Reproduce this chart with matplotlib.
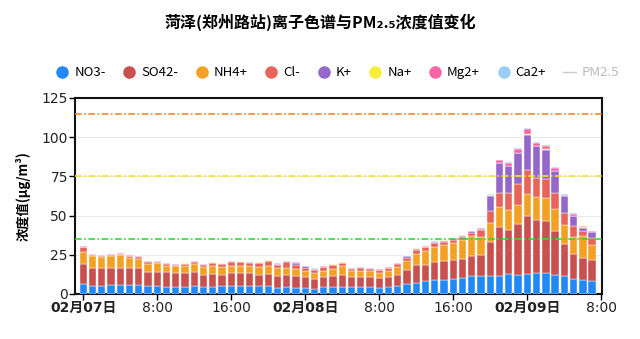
import numpy as np
import matplotlib
matplotlib.use("Agg")
import matplotlib.pyplot as plt
from matplotlib.lines import Line2D

plt.rcParams['font.family'] = ['Noto Sans CJK SC', 'DejaVu Sans']

# hourly samples, 02-07 00:00 .. 02-09 07:00
hours = np.arange(56)

no3 = [6.4, 5.3, 5.3, 5.5, 5.6, 5.6, 5.6, 5.3, 5.3, 4.4,
       4.4, 4.4, 5.3, 4.4, 4.4, 4.9, 4.9, 5.3, 5.3, 4.9,
       4.9, 3.8, 4.4, 3.8, 3.8, 3.4, 4.4, 4.4, 4.4, 4.4,
       4.4, 4.4, 3.8, 4.4, 5.3, 6.4, 7.0, 8.1, 9.1, 9.1,
       9.7, 10.2, 11.2, 11.6, 11.6, 11.6, 12.7, 12.0, 12.7, 13.3,
       13.3, 12.3, 11.2, 9.8, 8.7, 8.1]
so4 = [12.8, 11.3, 11.3, 11.1, 11.2, 11.2, 11.0, 8.5, 8.9, 9.6,
       9.0, 9.0, 8.7, 7.9, 8.5, 7.4, 8.5, 8.1, 8.1, 7.4,
       7.8, 7.4, 7.9, 7.9, 6.8, 6.3, 6.6, 7.3, 7.9, 6.6,
       6.6, 6.6, 6.4, 6.2, 7.0, 8.7, 11.3, 10.6, 11.1, 11.7,
       12.2, 12.3, 13.2, 13.4, 21.3, 30.8, 27.8, 32.4, 37.2, 33.6,
       33.0, 27.6, 20.8, 15.9, 14.0, 13.6]
nh4 = [7.8, 7.4, 6.8, 7.4, 7.9, 5.9, 5.6, 5.4, 5.6, 4.0,
       4.2, 4.2, 5.1, 4.7, 5.1, 4.7, 4.6, 4.6, 4.6, 4.7,
       5.3, 5.4, 4.3, 4.4, 3.8, 3.7, 3.4, 4.4, 5.3, 3.6,
       3.6, 3.6, 3.2, 3.8, 4.7, 6.2, 7.2, 8.5, 9.5, 10.2,
       10.6, 11.7, 12.3, 11.3, 12.3, 12.8, 13.3, 12.5, 14.0, 14.7,
       14.6, 14.5, 12.2, 10.6, 14.5, 9.7]
cl = [2.7, 0.9, 1.0, 0.9, 0.7, 1.3, 1.3, 1.0, 0.8, 1.3,
      1.1, 1.5, 1.3, 1.7, 1.7, 2.1, 2.4, 2.2, 1.7, 2.7,
      2.8, 2.1, 3.8, 2.6, 2.2, 2.1, 2.6, 2.2, 2.1, 1.5,
      2.0, 1.5, 1.7, 1.9, 2.3, 1.7, 2.8, 2.5, 2.8, 2.1,
      2.1, 1.9, 2.1, 4.3, 7.5, 9.2, 10.6, 13.4, 15.3, 12.3,
      12.4, 10.0, 7.4, 6.8, 3.2, 4.3]
k = [0.4, 0.3, 0.3, 0.3, 0.2, 0.4, 0.5, 0.5, 0.3, 0.3,
     0.3, 0.3, 0.3, 0.3, 0.3, 0.3, 0.4, 0.4, 0.5, 0.3,
     0.5, 0.5, 0.5, 1.0, 1.0, 0.5, 0.3, 0.4, 0.2, 0.3,
     0.3, 0.3, 0.3, 0.4, 0.3, 1.0, 0.6, 0.4, 0.6, 0.9,
     1.0, 1.1, 1.1, 0.8, 10.0, 19.1, 17.0, 19.6, 22.3, 20.2,
     18.7, 13.8, 10.7, 6.8, 1.9, 3.6]
na = [0.1, 0.1, 0.1, 0.1, 0.1, 0.1, 0.1, 0.1, 0.1, 0.1,
      0.1, 0.1, 0.2, 0.1, 0.1, 0.1, 0.1, 0.1, 0.1, 0.1,
      0.1, 0.1, 0.1, 0.2, 0.1, 0.1, 0.1, 0.1, 0.3, 0.1,
      0.1, 0.1, 0.1, 0.1, 0.1, 0.1, 0.1, 0.1, 0.2, 0.1,
      0.1, 0.1, 0.1, 0.1, 0.1, 0.2, 0.2, 0.2, 0.2, 0.2,
      0.2, 0.2, 0.1, 0.1, 0.1, 0.1]
mg = [0.1, 0.1, 0.1, 0.1, 0.1, 0.1, 0.1, 0.1, 0.1, 0.1,
      0.1, 0.1, 0.1, 0.1, 0.1, 0.1, 0.1, 0.1, 0.1, 0.1,
      0.1, 0.1, 0.1, 0.2, 0.1, 0.1, 0.1, 0.1, 0.1, 0.1,
      0.1, 0.1, 0.1, 0.2, 0.1, 0.1, 0.1, 0.1, 0.1, 0.1,
      0.1, 0.1, 0.2, 0.6, 0.6, 1.5, 1.7, 2.6, 3.7, 2.2,
      2.1, 2.1, 1.0, 1.1, 0.8, 0.6]
ca = [0.3, 0.3, 0.2, 0.3, 0.3, 0.2, 0.2, 0.2, 0.2, 0.1,
      0.1, 0.1, 0.2, 0.1, 0.2, 0.1, 0.2, 0.2, 0.2, 0.2,
      0.2, 0.1, 0.1, 0.3, 0.2, 0.2, 0.1, 0.2, 0.1, 0.2,
      0.1, 0.2, 0.1, 0.2, 0.1, 0.2, 0.2, 0.1, 0.1, 0.1,
      0.1, 0.1, 0.1, 0.2, 0.3, 0.5, 0.7, 0.4, 0.4, 0.4,
      0.9, 0.7, 0.5, 0.5, 0.4, 0.4]

names = ['NO3-', 'SO42-', 'NH4+', 'Cl-', 'K+', 'Na+', 'Mg2+', 'Ca2+']
colors = ['#2188f4', '#c8504f', '#f2a124', '#e8645a', '#9467c9',
          '#f7ee3a', '#ff63a5', '#9acdf6']
series = [no3, so4, nh4, cl, k, na, mg, ca]

ref_levels = [115, 75, 35]
ref_colors = ['#f0892a', '#f2e422', '#2fdd2f']

tick_pos = [0, 8, 16, 24, 32, 40, 48, 56]
tick_labels = ['02月07日', '8:00', '16:00', '02月08日', '8:00', '16:00',
               '02月09日', '8:00']

latin_first = ['DejaVu Sans', 'Noto Sans CJK SC']

fig = plt.figure(figsize=(6.4, 3.39), dpi=100)
ax = fig.add_axes([0.117, 0.133, 0.824, 0.578])

bottom = np.zeros(len(hours))
for vals, c in zip(series, colors):
    ax.bar(hours, vals, bottom=bottom, width=0.8, color=c,
           edgecolor='white', linewidth=0.3, zorder=3)
    bottom += np.array(vals)

for lvl, c in zip(ref_levels, ref_colors):
    ax.axhline(lvl, color=c, lw=1.2, ls=(0, (4, 1.5, 1, 1.5)), zorder=4)

ax.set_xlim(-0.9, 56.1)
ax.set_ylim(0, 125)
ax.set_yticks([0, 25, 50, 75, 100, 125])
ax.yaxis.grid(True, color='#e8e8e8', lw=0.8, zorder=0)
ax.set_xticks(tick_pos)
ax.set_xticklabels(tick_labels)
for lab in ax.get_xticklabels() + ax.get_yticklabels():
    lab.set_family(latin_first)
    if '日' in lab.get_text():
        lab.set_fontweight('bold')
ax.tick_params(axis='both', labelsize=10, length=4, width=1, pad=1,
               labelcolor='#222222')
for s in ax.spines.values():
    s.set_linewidth(1.5)
    s.set_color('#111111')

ax.set_ylabel('浓度值(μg/m³)', fontsize=9.5, fontweight='bold', labelpad=8)

fig.text(0.5, 0.935, '菏泽(郑州路站)离子色谱与PM₂.₅浓度值变化',
         ha='center', va='center', fontsize=11.5, fontweight='bold')

handles = [Line2D([], [], marker='o', ls='none', markersize=8,
                  markerfacecolor=c, markeredgecolor=c) for c in colors]
handles.append(Line2D([], [], color='#cccccc', lw=1))
leg = fig.legend(handles, names + ['PM2.5'], loc='center',
                 bbox_to_anchor=(0.527, 0.785), ncol=9, frameon=False,
                 fontsize=9.5, handlelength=1.0, handletextpad=0.4,
                 columnspacing=1.3)
leg.get_texts()[-1].set_color('#bbbbbb')

fig.savefig('out.png', dpi=100)
